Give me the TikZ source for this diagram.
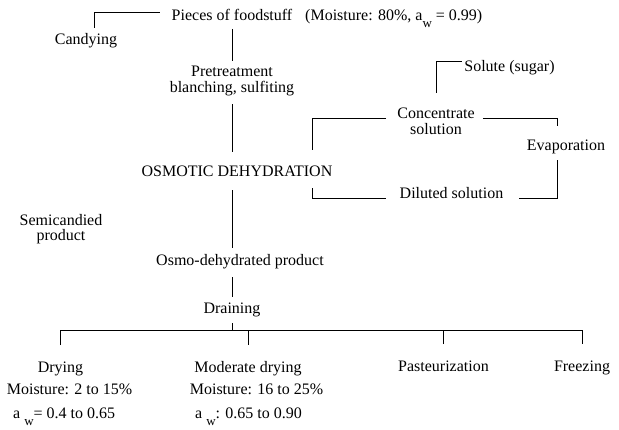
\documentclass[tikz,border=0pt]{standalone}
\usepackage{fontspec}
\setmainfont{Liberation Serif}
\usetikzlibrary{positioning}
\newcommand{\wsub}{\raisebox{-7pt}{\fontsize{13}{13}\selectfont w}}
\tikzset{
  txt/.style={inner sep=0pt, anchor=base},
  txtl/.style={inner sep=0pt, anchor=base west},
  twoline/.style={inner sep=0pt, anchor=north, align=center},
  conn/.style={line width=0.9pt}
}

\begin{document}
\begin{tikzpicture}[x=1pt,y=-1pt,font=\fontsize{16}{15.5}\selectfont]
\useasboundingbox (0,0) rectangle (619,430);

% main line
\node[txt] (pieces) at (232,21) {Pieces of foodstuff};
\node[txtl] (moist) at (305,21) {(Moisture: 80\%, a\wsub{} = 0.99)};
\node[txt] (candy) at (86,45) {Candying};
\node[twoline] (pretreat) at (232,66) {Pretreatment\\blanching, sulfiting};
\node[txt] (osmotic) at (237,177) {OSMOTIC DEHYDRATION};
\node[twoline] (semi) at (61,214) {Semicandied\\product};
\node[txt] (osmo) at (240,266) {Osmo-dehydrated product};
\node[txt] (drain) at (232,314) {Draining};

% solution loop
\node[txt] (solute) at (509.5,72) {Solute (sugar)};
\node[twoline] (conc) at (436,108) {Concentrate\\solution};
\node[txt] (evap) at (566,151) {Evaporation};
\node[txt] (dilut) at (451.5,199) {Diluted solution};

% end products
\node[txt] (drying) at (60.5,373) {Drying};
\node[txt] (moistA) at (69.5,395) {Moisture: 2 to 15\%};
\node[txtl] (awA) at (13,419) {a \wsub= 0.4 to 0.65};
\node[txt] (moder) at (248,373) {Moderate drying};
\node[txt] (moistB) at (256.5,395) {Moisture: 16 to 25\%};
\node[txtl] (awB) at (195,419) {a \wsub: 0.65 to 0.90};
\node[txt] (past) at (443.5,372) {Pasteurization};
\node[txt] (freez) at (582,372) {Freezing};

\draw[conn] ([xshift=8pt,yshift=6pt]candy.north) |- ([xshift=-12pt,yshift=2.5pt]pieces.west);
\draw[conn,shorten <=8pt,shorten >=5pt] (pieces.base) -- (pretreat.north);
\draw[conn,shorten <=8.5pt,shorten >=14pt] (pretreat.south) -- (pretreat.south |- osmotic.north);
\draw[conn,shorten <=13pt,shorten >=7pt] (osmotic.south -| drain) -- (osmo.north -| drain);
\draw[conn,shorten <=7.5pt,shorten >=6pt] (osmo.south -| drain) -- (drain.north);
\draw[conn,shorten <=5.5pt] (drain.south) -- ++(0,12.5) coordinate (bus);

\draw[conn] ([yshift=17pt]drying.north) |- (bus) -| ([yshift=17pt]freez.north);
\draw[conn] ([yshift=17pt]moder.north) -- (moder.north |- bus);
\draw[conn] ([yshift=17pt]past.north) -- (past.north |- bus);

\draw[conn] ([yshift=15pt]conc.north) |- ([xshift=-2pt,yshift=6.3pt]solute.west);
\draw[conn] ([xshift=-11pt,yshift=3pt]conc.west) -| ([xshift=-20pt,yshift=16pt]osmotic.north east);
\draw[conn] ([xshift=8pt,yshift=3pt]conc.east) -| ([xshift=-9pt,yshift=14pt]evap.north);
\draw[conn] ([xshift=-9pt,yshift=-5.5pt]evap.south) |- ([xshift=16pt,yshift=-4.5pt]dilut.east);
\draw[conn] ([xshift=-14pt,yshift=-4.5pt]dilut.west) -| ([xshift=-20pt,yshift=-11pt]osmotic.south east);
\end{tikzpicture}
\end{document}
